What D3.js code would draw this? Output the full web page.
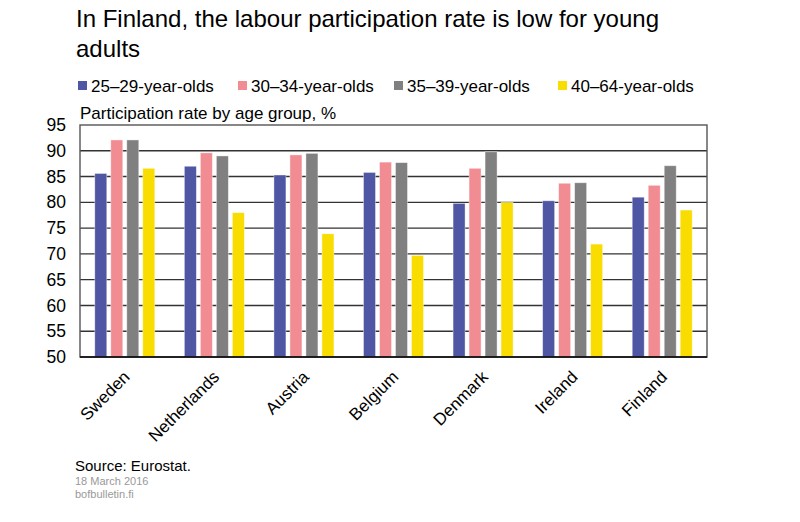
<!DOCTYPE html>
<html>
<head>
<meta charset="utf-8">
<script src="https://cdn.jsdelivr.net/npm/d3@7"></script>
<style>
  body { margin: 0; background: #fff; }
  svg { font-family: "Liberation Sans", Arial, sans-serif; }
</style>
</head>
<body>
<div id="chart"></div>
<script>
const countries = ["Sweden", "Netherlands", "Austria", "Belgium", "Denmark", "Ireland", "Finland"];
const ageGroups = ["25–29-year-olds", "30–34-year-olds", "35–39-year-olds", "40–64-year-olds"];
const age25to29 = [85.6, 87.0, 85.3, 85.8, 79.8, 80.3, 81.0];
const age30to34 = [92.1, 89.6, 89.2, 87.8, 86.6, 83.7, 83.3];
const age35to39 = [92.1, 89.0, 89.5, 87.7, 89.8, 83.8, 87.1];
const age40to64 = [86.6, 78.0, 73.9, 69.7, 80.0, 71.9, 78.5];
const yTicks = [50, 55, 60, 65, 70, 75, 80, 85, 90, 95];
const colors = ["#4f56a3", "#f28c93", "#808080", "#f9dc00"];

const series = [age25to29, age30to34, age35to39, age40to64];
const data = countries.map((c, i) => {
  let d = { country: c };
  ageGroups.forEach((g, j) => { d[g] = series[j][i]; });
  return d;
});

const width = 800, height = 522;
const margin = { top: 125, right: 93, bottom: 165, left: 80 };

const svg = d3.select("#chart").append("svg")
  .attr("width", width)
  .attr("height", height);

const x0 = d3.scaleBand()
  .domain(countries)
  .range([margin.left, width - margin.right])
  .paddingInner(0);

const x1 = d3.scaleBand()
  .domain(ageGroups)
  .range([0, 60])
  .paddingInner(0.25);

const y = d3.scaleLinear()
  .domain([50, 95])
  .range([height - margin.bottom, margin.top]);

const color = d3.scaleOrdinal().domain(ageGroups).range(colors);

// title
svg.append("text")
  .attr("x", 76).attr("y", 27)
  .attr("font-size", 24)
  .attr("fill", "#000")
  .selectAll("tspan")
  .data(["In Finland, the labour participation rate is low for young", "adults"])
  .join("tspan")
  .attr("x", 76)
  .attr("dy", (d, i) => i === 0 ? 0 : 30)
  .text((d) => d);

// legend
const legendX = [78, 238, 394, 558];
const legend = svg.append("g").attr("class", "legend");
ageGroups.forEach((g, i) => {
  legend.append("rect")
    .attr("x", legendX[i]).attr("y", 81)
    .attr("width", 9).attr("height", 9)
    .attr("fill", color(g));
  legend.append("text")
    .attr("x", legendX[i] + 13).attr("y", 92)
    .attr("font-size", 17)
    .text(g);
});

// subtitle
svg.append("text")
  .attr("x", 80).attr("y", 119)
  .attr("font-size", 17)
  .text("Participation rate by age group, %");

// gridlines
svg.append("g").attr("class", "grid")
  .selectAll("line")
  .data(yTicks.filter((t) => t > 50 && t < 95))
  .join("line")
  .attr("x1", margin.left).attr("x2", width - margin.right)
  .attr("y1", (d) => y(d)).attr("y2", (d) => y(d))
  .attr("stroke", "#333")
  .attr("stroke-width", 1.4);

// bars
const group = svg.append("g").attr("class", "bars")
  .selectAll("g")
  .data(data)
  .join("g")
  .attr("transform", (d) => `translate(${x0(d.country) + (x0.bandwidth() - 60) / 2},0)`);

group.selectAll("rect")
  .data((d) => ageGroups.map((g) => ({ key: g, value: d[g] })))
  .join("rect")
  .attr("x", (d) => x1(d.key))
  .attr("width", x1.bandwidth())
  .attr("y", (d) => y(d.value))
  .attr("height", (d) => y(50) - y(d.value))
  .attr("fill", (d) => color(d.key))
  .attr("stroke", "rgba(255,255,255,0.5)")
  .attr("stroke-width", 0.8);

// frame
svg.append("rect")
  .attr("x", margin.left).attr("y", margin.top)
  .attr("width", width - margin.left - margin.right)
  .attr("height", height - margin.top - margin.bottom)
  .attr("fill", "none")
  .attr("stroke", "#555")
  .attr("stroke-width", 1.4);

svg.append("line")
  .attr("x1", margin.left).attr("x2", width - margin.right)
  .attr("y1", y(50)).attr("y2", y(50))
  .attr("stroke", "#000")
  .attr("stroke-width", 1.5);

// y axis
const yAxis = d3.axisLeft(y).tickValues(yTicks).tickSize(0).tickPadding(14);
svg.append("g")
  .attr("transform", `translate(${margin.left},0)`)
  .call(yAxis)
  .call((g) => g.select(".domain").remove())
  .call((g) => g.selectAll("text")
    .attr("font-size", 17.5)
    .attr("font-family", "Liberation Sans, Arial, sans-serif")
    .attr("fill", "#000"));

// x axis labels
const xAxis = d3.axisBottom(x0).tickSize(0).tickPadding(0);
svg.append("g")
  .attr("transform", `translate(0,${y(50)})`)
  .call(xAxis)
  .call((g) => g.select(".domain").remove())
  .call((g) => g.selectAll("text")
    .attr("font-size", 17)
    .attr("font-family", "Liberation Sans, Arial, sans-serif")
    .attr("fill", "#000")
    .attr("text-anchor", "end")
    .attr("dy", 0)
    .attr("y", 0)
    .attr("transform", "translate(6,21) rotate(-45)"));

// source & footer
svg.append("text")
  .attr("x", 75).attr("y", 471)
  .attr("font-size", 15)
  .text("Source: Eurostat.");

svg.append("text")
  .attr("x", 75).attr("y", 485)
  .attr("font-size", 11)
  .attr("fill", "#999")
  .text("18 March 2016");

svg.append("text")
  .attr("x", 75).attr("y", 498)
  .attr("font-size", 11)
  .attr("fill", "#999")
  .text("bofbulletin.fi");
</script>
</body>
</html>
